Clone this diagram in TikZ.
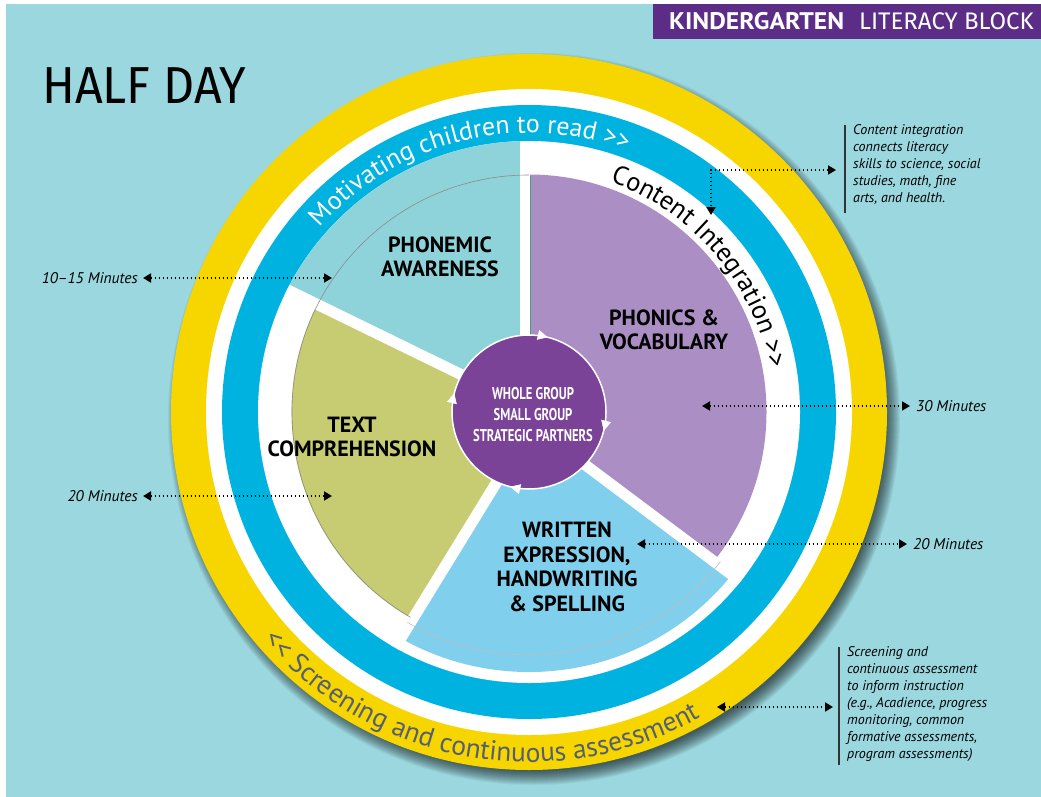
\documentclass[tikz,border=0pt]{standalone}
\usepackage{fontspec}
\setmainfont{PT Sans}
\newfontfamily\condfont[FakeStretch=0.74]{PT Sans}
\newfontfamily\widefont[FakeStretch=1.07]{PT Sans}
\newfontfamily\lightfont{Fira Sans}
\newfontfamily\titlefont[FakeStretch=0.93]{Fira Sans}
\usetikzlibrary{decorations.text,decorations.markings,arrows.meta}
\definecolor{bgc}{RGB}{155,215,222}
\definecolor{ylw}{RGB}{247,214,0}
\definecolor{blu}{RGB}{0,178,224}
\definecolor{tealA}{RGB}{142,211,218}
\definecolor{purp}{RGB}{171,143,196}
\definecolor{grn}{RGB}{199,204,114}
\definecolor{ltblu}{RGB}{128,207,236}
\definecolor{ctr}{RGB}{123,67,151}
\definecolor{bannerc}{RGB}{92,45,135}
\definecolor{scr}{RGB}{85,95,115}
\definecolor{edgegrn}{RGB}{70,160,120}
\tikzset{
  gapline/.style={white, line width=11},
  lbl/.style={font=\bfseries\fontsize{22}{24.5}\selectfont, align=center, text=black, inner sep=0},
  mins/.style={font=\itshape\fontsize{15.5}{18}\selectfont, inner sep=0},
  ann/.style={font=\itshape\fontsize{14}{17}\selectfont, align=left, inner sep=0, anchor=north west},
  dotarrow/.style={line width=1.8, dash pattern=on 1.8pt off 2.2pt,
    {Triangle[length=8pt,width=9pt]}-{Triangle[length=8pt,width=9pt]}},
  annbar/.style={line width=1.2, black!80}
}
\begin{document}
\begin{tikzpicture}[x=1pt,y=1pt]
\useasboundingbox (0,0) rectangle (1041,-797);
\fill[white] (0,0) rectangle (1041,-797);
\fill[bgc] (6,-4) rectangle (1041,-797);
\coordinate (C) at (529,-412);
\coordinate (S) at (534,-419);
% shadow
\foreach \i in {0,...,14}{
  \fill[black, opacity=0.05] (S) circle ({352+\i});
}
% rings
\fill[ylw] (C) circle (358);
\fill[white] (C) circle (323);
\fill[blu] (C) circle (307);
\fill[white] (C) circle (271);
% sectors
\begin{scope}
  \clip (C) circle (271);
  \fill[tealA] (525,-380) -- (525,0) -- (-100,0) -- (-20,-140) -- (480,-383.75) -- cycle;
\end{scope}
\begin{scope}
  \clip (C) circle (237.5);
  \fill[purp] (525,-380) -- (525,0) -- (1100,0) -- (1100,-776) -- (1000,-776) -- (570,-453.5) -- cycle;
  \fill[grn] (520.8,-443) -- (151,-1045) -- (-100,-1045) -- (-100,-140) -- (-20,-140) -- (480,-383.75) -- cycle;
\end{scope}
\begin{scope}
  \clip (C) circle (260);
  \fill[ltblu] (570,-453.5) -- (1000,-776) -- (1000,-1100) -- (151,-1100) -- (151,-1045) -- (520.8,-443) -- cycle;
\end{scope}
% gaps
\begin{scope}
  \clip (C) circle (271);
  \draw[gapline, line width=10] (525,-380) -- (525,0);
  \draw[gapline] (480,-383.75) -- (-20,-140);
  \draw[gapline] (520.8,-443) -- (151,-1045);
  \draw[gapline] (570,-453.5) -- (1000,-776);
\end{scope}
% thin arcs
\draw[black!45, line width=0.6] ([shift={(C)}]90:237) arc[start angle=90, end angle=240, radius=237];
\draw[black!25, line width=0.6] ([shift={(C)}]240:243) arc[start angle=240, end angle=322, radius=243];
\draw[edgegrn, line width=0.8] (530.5,-176) -- (530.5,-345);
% curved texts
\path[decorate, decoration={text along path, text align=center, text color=white,
  text={|\fontsize{26}{26}\selectfont|Motivating children to read >>}}]
  ([shift={(C)}]154:279) arc[start angle=154, end angle=54, radius=279];
\path[decorate, decoration={text along path, text align=center, text color=black,
  text={|\fontsize{26.5}{26.5}\selectfont|Content Integration >>}}]
  ([shift={(C)}]80:244) arc[start angle=80, end angle=1, radius=244];
\path[decorate, decoration={text along path, text align=center, text color=scr,
  text={|\fontsize{27.5}{27.5}\selectfont|<< Screening and continuous assessment}}]
  ([shift={(C)}]200:350) arc[start angle=200, end angle=320, radius=350];
% hub
\node[circle, fill=ctr, draw=white, line width=1.5, minimum size=154, inner sep=0] (hub) at (C) {};
\path[postaction={decorate}, decoration={markings,
  mark=at position 0.211 with {\arrowreversed[white]{Triangle[length=10pt,width=10pt]}},
  mark=at position 0.461 with {\arrowreversed[white]{Triangle[length=10pt,width=10pt]}},
  mark=at position 0.711 with {\arrowreversed[white]{Triangle[length=10pt,width=10pt]}},
  mark=at position 0.961 with {\arrowreversed[white]{Triangle[length=10pt,width=10pt]}}}]
  (C) circle (77);
\node[text=white, font=\condfont\bfseries\fontsize{17}{21}\selectfont, align=center, inner sep=0] (hubtext) at (533,-415) {WHOLE GROUP\\SMALL GROUP\\STRATEGIC PARTNERS};
% labels
\node[lbl] (phon) at (440,-257) {PHONEMIC\\AWARENESS};
\node[lbl] (phonics) at (664,-330) {PHONICS \&\\VOCABULARY};
\node[lbl] (textc) at (352,-437) {TEXT\\COMPREHENSION};
\node[lbl] (written) at (567,-567) {WRITTEN\\EXPRESSION,\\HANDWRITING\\\& SPELLING};
% minutes
\node[mins, anchor=east] (m1) at (138,-278) {10–15 Minutes};
\coordinate (m1a) at (143,-278); \coordinate (m1b) at (332,-278);
\draw[dotarrow] (m1a) -- (m1b);
\node[mins, anchor=east] (m2) at (138,-496) {20 Minutes};
\coordinate (m2a) at (143,-496); \coordinate (m2b) at (332,-496);
\draw[dotarrow] (m2a) -- (m2b);
\node[mins, anchor=west] (m3) at (916,-406) {30 Minutes};
\coordinate (m3a) at (702,-406); \coordinate (m3b) at (910,-406);
\draw[dotarrow] (m3a) -- (m3b);
\node[mins, anchor=west] (m4) at (913,-544) {20 Minutes};
\coordinate (m4a) at (637,-544); \coordinate (m4b) at (907,-544);
\draw[dotarrow] (m4a) -- (m4b);
% annotations
\coordinate (b1t) at (845,-125); \coordinate (b1b) at (845,-213);
\draw[annbar] (b1t) -- (b1b);
\node[ann] (ann1) at (853,-124) {Content integration\\connects literacy\\skills to science, social\\studies, math, fine\\arts, and health.};
\coordinate (a1s) at (836,-170); \coordinate (a1e) at (711,-215);
\draw[dotarrow] (a1s) -| (a1e);
\coordinate (b2t) at (839,-647); \coordinate (b2b) at (839,-765);
\draw[annbar] (b2t) -- (b2b);
\node[ann] (ann2) at (847,-646) {Screening and\\continuous assessment\\to inform instruction\\(e.g., Acadience, progress\\monitoring, common\\formative assessments,\\program assessments)};
\coordinate (a2s) at (717,-707); \coordinate (a2e) at (833,-707);
\draw[dotarrow] (a2s) -- (a2e);
% banner and title
\fill[bannerc] (653,-4) rectangle (1041,-39);
\node[anchor=base west, text=white, inner sep=0, font=\fontsize{24}{24}\selectfont] (bannertext) at (669,-29.5) {{\widefont\bfseries KINDERGARTEN}\hspace{15pt}{\lightfont LITERACY BLOCK}};
\node[anchor=base west, inner sep=0, font=\titlefont\fontsize{52}{52}\selectfont] (title) at (42,-104) {HALF DAY};
\end{tikzpicture}
\end{document}
